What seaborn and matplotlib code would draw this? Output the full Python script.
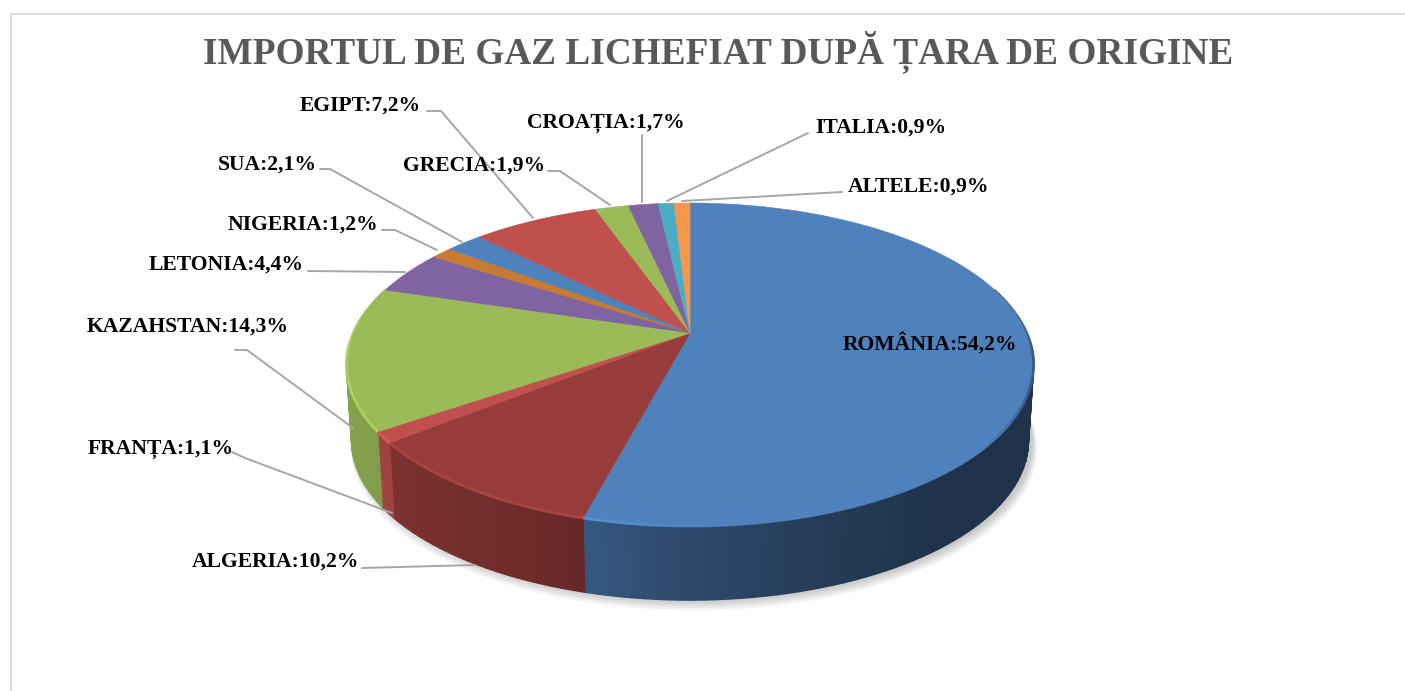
import numpy as np
import matplotlib
matplotlib.use("Agg")
import matplotlib.pyplot as plt
from matplotlib.colors import to_rgb
from matplotlib.path import Path
from matplotlib.transforms import Transform
import seaborn as sns

# Datele graficului
tari = ["ROMÂNIA", "ALGERIA", "FRANȚA", "KAZAHSTAN", "LETONIA", "NIGERIA",
        "SUA", "EGIPT", "GRECIA", "CROAȚIA", "ITALIA", "ALTELE"]
procente = [54.2, 10.2, 1.1, 14.3, 4.4, 1.2, 2.1, 7.2, 1.9, 1.7, 0.9, 0.9]
culori = ["#4f81bd", "#973c3a", "#c0504d", "#9bbb59", "#8064a2", "#c77a30",
          "#4f81bd", "#c0504d", "#9bbb59", "#8064a2", "#4bacc6", "#f79646"]
titlu = "IMPORTUL DE GAZ LICHEFIAT DUPĂ ȚARA DE ORIGINE"

# Pozitia etichetelor (x stanga, y centru) si liniile de legatura, in pixeli
poz_etichete = [(843, 344), (192, 562), (88, 449), (87, 327), (149, 265), (228, 225),
                (218, 165), (300, 106), (403, 166), (527, 123), (815, 128), (848, 187)]
linii = [None,
         [(362, 568), (475, 565)],
         [(232, 452), (245, 458), (392, 513)],
         [(235, 350), (247, 350), (353, 428)],
         [(308, 271), (405, 272)],
         [(382, 230), (395, 230), (437, 250)],
         [(320, 169), (330, 169), (462, 242)],
         [(427, 111), (441, 111), (533, 218)],
         [(548, 171), (560, 171), (610, 205)],
         [(642, 135), (642, 202)],
         [(808, 133), (667, 201)],
         [(842, 192), (682, 201)]]

sns.set_theme(style="white")
plt.rcParams['font.family'] = ['Liberation Serif', 'DejaVu Serif']

# Perspectiva discului: centrul (690, 333), spatele mai mic decat fata
CX, CY = 690, 333
RX, RY, K = 337, 155.35, 0.195
ADANCIME = 77
SCARA_JOS = 0.985


def proiectie(u, v, dy=0, s=1):
    w = 1 + K * v
    return CX + s * RX * u / w, CY + dy - s * RY * v / w


class Perspectiva(Transform):
    input_dims = output_dims = 2

    def transform_non_affine(self, values):
        x, y = proiectie(values[:, 0], values[:, 1])
        return np.column_stack([x, y])

    def transform_path_non_affine(self, path):
        return Path(self.transform_non_affine(path.interpolated(1).vertices), path.codes)


fig = plt.figure(figsize=(14.05, 6.91), dpi=100)
ax = fig.add_axes([0, 0, 1, 1])

wedges, _ = ax.pie(procente, colors=culori, startangle=90, counterclock=False)
ax.set_aspect("auto")
ax.set_xlim(0, 1405)
ax.set_ylim(691, 0)
ax.axis("off")

persp = Perspectiva() + ax.transData
for w in wedges:
    w.set_transform(persp)
    w.set_zorder(3)
    w.set_edgecolor(w.get_facecolor())
    w.set_linewidth(0.4)

# Umbra difuza sub disc
unghi = np.linspace(0, 2 * np.pi, 300)
for i in range(8):
    xu, yu = proiectie(np.cos(unghi), np.sin(unghi), ADANCIME + 1 + i, SCARA_JOS + i * 0.002)
    ax.fill(xu + 4, yu, color="#000000", alpha=0.028, lw=0, zorder=0)

# Peretele lateral si marginea, pe felii inguste
for w, c in zip(wedges, culori):
    baza = np.array(to_rgb(c))
    t = np.radians(np.linspace(w.theta1, w.theta2, max(3, int((w.theta2 - w.theta1) * 0.6))))
    for a, b in zip(t[:-1], t[1:]):
        ua, va, ub, vb = np.cos(a), np.sin(a), np.cos(b), np.sin(b)
        um, vm = (ua + ub) / 2, (va + vb) / 2
        if vm > 0.3:
            continue
        xs1, ys1 = proiectie(np.array([ua, ub]), np.array([va, vb]))
        xs2, ys2 = proiectie(np.array([ub, ua]), np.array([vb, va]), ADANCIME, SCARA_JOS)
        f = np.interp(um, [-1, -0.26, 0, 0.6], [0.88, 0.68, 0.56, 0.39])
        ax.fill(np.r_[xs1, xs2], np.r_[ys1, ys2], color=baza * f, lw=1, zorder=1)
        # bizou luminos in fata/stanga, intunecat la dreapta, se stinge spre spate
        g = np.interp(um, [-0.3, 0.1, 0.75, 0.95], [1.12, 1.0, 1.0, 0.7])
        g = 1 + (g - 1) * np.interp(vm, [-0.1, 0.3], [1, 0])
        gros = np.interp(vm, [-0.1, 0.3], [2, 0.2])
        ax.plot(xs1, ys1, color=np.clip(baza * g, 0, 1), lw=gros, solid_capstyle="butt", zorder=4)

# Linii de legatura
for lin in linii:
    if lin is not None:
        ax.plot(*zip(*lin), color="#a6a6a6", lw=1.4, zorder=5)

# Etichete
for nume, val, (x, y) in zip(tari, procente, poz_etichete):
    text = f"{nume}:{val:.1f}%".replace(".", ",")
    ax.text(x, y, text, fontsize=15.55, fontweight="bold", color="black",
            ha="left", va="center", zorder=6)

ax.text(718.5, 52, titlu, fontsize=26.85, fontweight="bold", color="#595959",
        ha="center", va="center", zorder=6)

# Chenarul
ax.plot([10.5, 10.5, 1405], [691, 13.5, 13.5], color="#dcdcdc", lw=1.4, zorder=0)

fig.savefig("out.png", dpi=100)
